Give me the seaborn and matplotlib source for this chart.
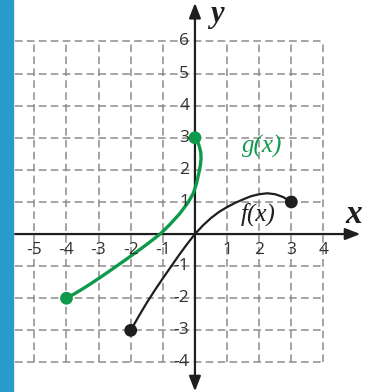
import matplotlib
matplotlib.use("Agg")
import matplotlib.pyplot as plt
import seaborn as sns
import pandas as pd
from matplotlib.patches import Rectangle

# ---- data ----
g_x = [-4, -3.75, -3.5, -3.25, -3, -2.75, -2.5, -2.25, -2, -1.75, -1.5, -1.25, -1.05,
       -0.78, -0.47, -0.21, -0.05, 0.05, 0.12, 0.17, 0.19, 0.18, 0.13, 0.07, 0]
g_y = [-2, -1.86, -1.71, -1.55, -1.385, -1.215, -1.04, -0.865, -0.687, -0.507, -0.322,
       -0.13, 0.03, 0.3, 0.64, 0.99, 1.27, 1.58, 1.9, 2.15, 2.35, 2.55, 2.75, 2.9, 3]
f_x = [-2, -1.75, -1.5, -1.25, -1, -0.75, -0.5, -0.25, 0, 0.25, 0.5, 0.75, 1,
       1.25, 1.5, 1.75, 2, 2.25, 2.5, 2.75, 3]
f_y = [-3, -2.56, -2.14, -1.75, -1.38, -1.02, -0.66, -0.32, 0, 0.27, 0.5, 0.69, 0.84,
       0.97, 1.08, 1.18, 1.24, 1.27, 1.24, 1.15, 1]
g_end_x = [-4, 0]
g_end_y = [-2, 3]
f_end_x = [-2, 3]
f_end_y = [-3, 1]
x_ticks = [-5, -4, -3, -2, -1, 1, 2, 3, 4]
y_ticks = [-4, -3, -2, -1, 1, 2, 3, 4, 5, 6]
grid_x = [-5, -4, -3, -2, -1, 0, 1, 2, 3, 4]
grid_y = [-4, -3, -2, -1, 0, 1, 2, 3, 4, 5, 6]

GREEN = "#0f9a4b"
BLACK = "#1e1e1e"
GRID = "#8c8c8c"
BLUE = "#279bc9"

sns.set_style("white")
fig = plt.figure(figsize=(3.7, 3.92), dpi=100)
ax = fig.add_axes([0, 0, 1, 1])

# grid
for gx in grid_x:
    ax.plot([gx, gx], [-4, 6], color=GRID, lw=1.1, dashes=(5, 2.8), zorder=1)
for gy in grid_y:
    ax.plot([-5.6, 4], [gy, gy], color=GRID, lw=1.1, dashes=(5, 2.8), zorder=1)

# axes with arrows
ax.annotate("", xy=(5.15, 0), xytext=(-5.6, 0),
            arrowprops=dict(arrowstyle="-|>,head_length=0.9,head_width=0.35", lw=1.6,
                            color=BLACK, shrinkA=0, shrinkB=0), zorder=3)
ax.annotate("", xy=(0, 7.2), xytext=(0, -4.9),
            arrowprops=dict(arrowstyle="<|-|>,head_length=0.9,head_width=0.35", lw=1.6,
                            color=BLACK, shrinkA=0, shrinkB=0), zorder=3)

# curves
gdf = pd.DataFrame({"x": g_x, "y": g_y})
fdf = pd.DataFrame({"x": f_x, "y": f_y})
sns.lineplot(data=gdf, x="x", y="y", sort=False, estimator=None, color=GREEN,
             lw=2.4, ax=ax, zorder=4)
sns.lineplot(data=fdf, x="x", y="y", sort=False, estimator=None, color=BLACK,
             lw=1.6, ax=ax, zorder=4)
for ln in ax.lines[-2:]:
    ln.set_solid_joinstyle("round")
    ln.set_solid_capstyle("round")
sns.scatterplot(x=g_end_x, y=g_end_y, color=GREEN, s=85, edgecolor="none", ax=ax, zorder=5)
sns.scatterplot(x=f_end_x, y=f_end_y, color=BLACK, s=85, edgecolor="none", ax=ax, zorder=5)
ax.set_xlim(-6.07, 5.45)
ax.set_ylim(-4.92, 7.29)
ax.axis("off")

# tick labels
for t in x_ticks:
    ax.text(t, -0.5, f"{t}", ha="center", va="center",
            fontsize=12.5, color="#333333", family="Open Sans", zorder=6)
for t in y_ticks:
    ax.text(-0.18, t, f"{t}", ha="right", va="center",
            fontsize=12.5, color="#333333", family="Open Sans", zorder=6)

# labels
ax.text(4.95, 0.62, "x", fontsize=24, style="italic", weight="bold",
        family="Liberation Serif", ha="center", va="center", color=BLACK)
ax.text(0.68, 6.85, "y", fontsize=22, style="italic", weight="bold",
        family="Liberation Serif", ha="center", va="center", color=BLACK)
ax.text(2.08, 2.72, "g(x)", fontsize=18, style="italic",
        family="Liberation Serif", ha="center", va="center", color=GREEN)
ax.text(1.97, 0.6, "f(x)", fontsize=18, style="italic",
        family="Liberation Serif", ha="center", va="center", color=BLACK)

# blue bar on left edge
fig.patches.append(Rectangle((0, 0), 13 / 370, 1, transform=fig.transFigure,
                             color=BLUE, zorder=10))

fig.savefig("out.png", dpi=100)
